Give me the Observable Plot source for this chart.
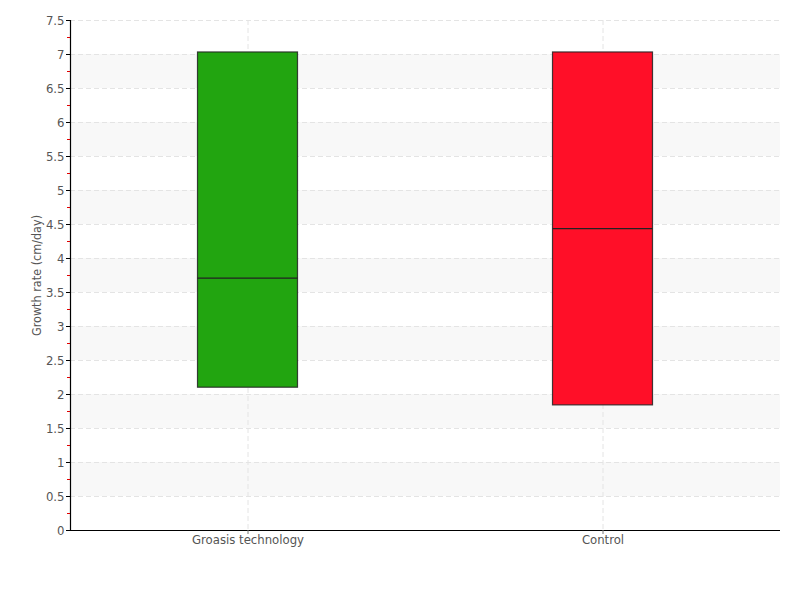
<!DOCTYPE html>
<html>
<head>
<meta charset="utf-8">
<script src="https://cdn.jsdelivr.net/npm/d3@7"></script>
<script src="https://cdn.jsdelivr.net/npm/@observablehq/plot@0.6"></script>
<style>
  html, body { margin: 0; padding: 0; background: #fff; }
  svg { display: block; }
</style>
</head>
<body>
<div id="chart"></div>
<script>
const categories = ["Groasis technology", "Control"];
const q1 = [2.10, 1.84];
const median = [3.71, 4.44];
const q3 = [7.03, 7.03];
const colors = ["#22a510", "#ff0f28"];
const yTicks = [0, 0.5, 1, 1.5, 2, 2.5, 3, 3.5, 4, 4.5, 5, 5.5, 6, 6.5, 7, 7.5];
const yMinorTicks = [0.25, 0.75, 1.25, 1.75, 2.25, 2.75, 3.25, 3.75, 4.25, 4.75, 5.25, 5.75, 6.25, 6.75, 7.25];
const shadedBands = [[0.5, 1], [1.5, 2], [2.5, 3], [3.5, 4], [4.5, 5], [5.5, 6], [6.5, 7]];
const yTitle = ["Growth rate (cm/day)"];

const boxes = categories.map((c, i) => ({cat: c, q1: q1[i], med: median[i], q3: q3[i], color: colors[i]}));
const bands = shadedBands.map(([a, b]) => ({y1: a, y2: b}));

const font = "'DejaVu Sans', sans-serif";
const inset = 127.5;

const chart = Plot.plot({
  width: 800,
  height: 600,
  marginTop: 20,
  marginBottom: 70,
  marginLeft: 70,
  marginRight: 20,
  style: {fontFamily: font, fontSize: "13px", fontStretch: "condensed", color: "#555", background: "#fff"},
  x: {domain: categories, padding: 0, label: null},
  y: {domain: [0, 7.5], label: null},
  marks: [
    Plot.rectY(bands, {y1: "y1", y2: "y2", fill: "#f8f8f8"}),
    Plot.gridY(yTicks, {stroke: "#e4e4e4", strokeOpacity: 1, strokeDasharray: "5,3"}),
    Plot.gridX(categories, {stroke: "#e4e4e4", strokeOpacity: 1, strokeDasharray: "5,3"}),
    Plot.barY(boxes, {x: "cat", y1: "q1", y2: "q3", fill: "color", stroke: "#222", strokeWidth: 1.2, strokeOpacity: 0.85, insetLeft: inset, insetRight: inset}),
    Plot.tickY(boxes, {x: "cat", y: "med", stroke: "#222", strokeWidth: 1.2, insetLeft: inset, insetRight: inset}),
    Plot.frame({anchor: "left", stroke: "#000", strokeWidth: 1.2}),
    Plot.ruleY([0], {stroke: "#000", strokeWidth: 1.2}),
    Plot.axisY(yMinorTicks, {tickSize: 3, stroke: "#e00000", strokeOpacity: 1, text: null, label: null}),
    Plot.axisY(yTicks, {tickSize: 4, tickPadding: 2, stroke: "#000", tickFormat: d => String(d), fill: "#555", fontSize: 13, label: null}),
    Plot.text(yTitle, {text: d => d, frameAnchor: "left", textAnchor: "middle", dx: -34, rotate: -90, fill: "#555", fontSize: 12.5}),
    Plot.axisX({tickSize: 4, stroke: "#777", fill: "#555", fontSize: 13, tickPadding: 0, label: null})
  ]
});
document.getElementById("chart").appendChild(chart);
</script>
</body>
</html>
